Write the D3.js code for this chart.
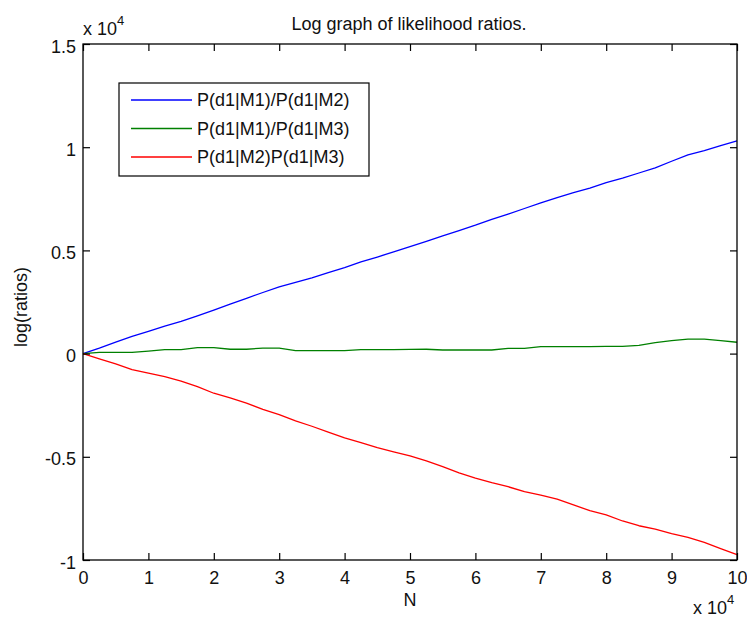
<!DOCTYPE html>
<html>
<head>
<meta charset="utf-8">
<script src="https://cdn.jsdelivr.net/npm/d3@7"></script>
<style>
  html, body { margin: 0; padding: 0; background: #fff; }
  text { font-family: "Liberation Sans", Arial, sans-serif; fill: #111; }
</style>
</head>
<body>
<svg id="chart" width="747" height="620"></svg>
<script>
// ---- data ----
const N = [0,2500,5000,7500,10000,12500,15000,17500,20000,22500,25000,27500,30000,32500,35000,37500,40000,42500,45000,47500,50000,52500,55000,57500,60000,62500,65000,67500,70000,72500,75000,77500,80000,82500,85000,87500,90000,92500,95000,97500,100000];
const ratio12 = [0,270,560,830,1080,1330,1560,1830,2110,2400,2680,2960,3230,3450,3670,3920,4170,4440,4680,4930,5180,5440,5700,5960,6220,6500,6760,7030,7300,7560,7800,8020,8280,8500,8750,9000,9320,9630,9830,10080,10310];
const ratio13 = [0,60,60,60,120,190,190,290,290,210,210,270,270,140,140,140,140,190,190,190,200,210,175,175,175,175,255,255,335,335,335,335,350,350,400,530,625,705,705,625,550];
const ratio23 = [0,-250,-500,-780,-950,-1120,-1330,-1600,-1920,-2150,-2400,-2700,-2960,-3260,-3520,-3800,-4080,-4310,-4560,-4760,-4960,-5200,-5480,-5780,-6030,-6250,-6450,-6690,-6860,-7050,-7330,-7610,-7810,-8110,-8340,-8500,-8720,-8900,-9150,-9450,-9740];
const seriesNames = ["P(d1|M1)/P(d1|M2)", "P(d1|M1)/P(d1|M3)", "P(d1|M2)P(d1|M3)"];
const seriesColors = ["#0000ff", "#008000", "#ff0000"];
const xTicks = [0,10000,20000,30000,40000,50000,60000,70000,80000,90000,100000];
const yTicks = [-10000,-5000,0,5000,10000,15000];
const xTickLabels = ["0","1","2","3","4","5","6","7","8","9","10"];
const yTickLabels = ["-1","-0.5","0","0.5","1","1.5"];
const titleText = "Log graph of likelihood ratios.";
const xLabel = "N";
const yLabel = "log(ratios)";

// ---- layout ----
const L = 83, R = 737, T = 44, B = 560;
const svg = d3.select("#chart");
const x = d3.scaleLinear().domain([0, 100000]).range([L, R]);
const y = d3.scaleLinear().domain([-10000, 15000]).range([B, T]);
const FS = 18;

// lines
const allSeries = [ratio12, ratio13, ratio23];
const line = d3.line().x((d, i) => x(N[i])).y(d => y(d));
allSeries.forEach((s, k) => {
  svg.append("path").datum(s)
    .attr("d", line)
    .attr("fill", "none")
    .attr("stroke", seriesColors[k])
    .attr("stroke-width", 1.3)
    .attr("stroke-linejoin", "round");
});

// axes (ticks inward, mirrored)
const tk = 7;
function styleAxis(g) {
  g.selectAll(".domain").remove();
  g.selectAll(".tick line").attr("stroke", "#000").attr("stroke-width", 1.2);
  g.selectAll(".tick text").attr("font-size", FS).attr("fill", "#111")
   .attr("font-family", '"Liberation Sans", Arial, sans-serif');
}
const gB = svg.append("g").attr("transform", `translate(0,${B})`)
  .call(d3.axisBottom(x).tickValues(xTicks).tickSize(-tk).tickPadding(10)
    .tickFormat((d, i) => xTickLabels[i]));
styleAxis(gB);
gB.selectAll(".tick text").attr("dy", null).attr("y", 24);
const gT = svg.append("g").attr("transform", `translate(0,${T})`)
  .call(d3.axisTop(x).tickValues(xTicks).tickSize(-tk).tickFormat(""));
styleAxis(gT);
const gL = svg.append("g").attr("transform", `translate(${L},0)`)
  .call(d3.axisLeft(y).tickValues(yTicks).tickSize(-tk).tickPadding(7)
    .tickFormat((d, i) => yTickLabels[i]));
styleAxis(gL);
gL.selectAll(".tick text").attr("dy", "0.45em");
const gR = svg.append("g").attr("transform", `translate(${R},0)`)
  .call(d3.axisRight(y).tickValues(yTicks).tickSize(-tk).tickFormat(""));
styleAxis(gR);

// box
svg.append("rect").attr("x", L).attr("y", T).attr("width", R - L).attr("height", B - T)
  .attr("fill", "none").attr("stroke", "#000").attr("stroke-width", 1.3);

// exponent labels
const e1 = svg.append("text").attr("x", L).attr("y", 35).attr("font-size", FS);
e1.append("tspan").text("x 10");
e1.append("tspan").attr("dy", -10).attr("font-size", 13).text("4");
const e2 = svg.append("text").attr("x", 693).attr("y", 614).attr("font-size", FS);
e2.append("tspan").text("x 10");
e2.append("tspan").attr("dy", -10).attr("font-size", 13).text("4");

// title & labels
svg.append("text").attr("x", 409).attr("y", 30).attr("text-anchor", "middle")
  .attr("font-size", FS).text(titleText);
svg.append("text").attr("x", 410).attr("y", 606).attr("text-anchor", "middle")
  .attr("font-size", FS).text(xLabel);
svg.append("text").attr("transform", "translate(27,307) rotate(-90)")
  .attr("text-anchor", "middle").attr("font-size", FS).text(yLabel);

// legend
svg.append("rect").attr("x", 119).attr("y", 83).attr("width", 250).attr("height", 93)
  .attr("fill", "#fff").attr("stroke", "#000").attr("stroke-width", 1.2);
const rowY = [100, 128.5, 157];
seriesNames.forEach((name, k) => {
  svg.append("line").attr("x1", 131).attr("x2", 192).attr("y1", rowY[k]).attr("y2", rowY[k])
    .attr("stroke", seriesColors[k]).attr("stroke-width", 1.3);
  svg.append("text").attr("x", 197).attr("y", rowY[k]).attr("dy", "0.36em")
    .attr("font-size", FS).text(name);
});
</script>
</body>
</html>
